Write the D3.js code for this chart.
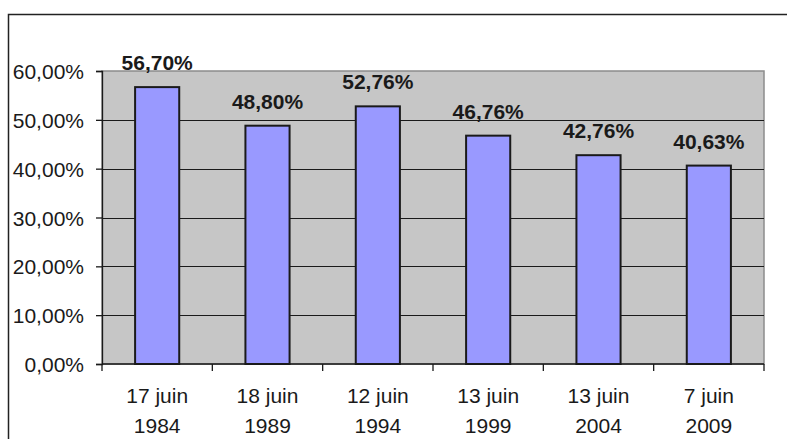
<!DOCTYPE html>
<html lang="fr">
<head>
<meta charset="UTF-8">
<title>Participation</title>
<script src="https://d3js.org/d3.v7.min.js"></script>
<style>
  body { margin: 0; background: #fff; }
  text { font-family: "Liberation Sans", Arial, sans-serif; fill: #1a1a1a; }
</style>
</head>
<body>
<script>
    // data
    dates = ["17 juin", "18 juin", "12 juin", "13 juin", "13 juin", "7 juin"]
    years = ["1984", "1989", "1994", "1999", "2004", "2009"]
    values = [56.70, 48.80, 52.76, 46.76, 42.76, 40.63]
    yTicks = [0, 10, 20, 30, 40, 50, 60]

    w = 787
    h = 439
    margin = {top: 71, right: 23, bottom: 75, left: 102}
    width = w - margin.left - margin.right
    height = h - margin.top - margin.bottom

    fmt = v => v.toFixed(2).replace(".", ",") + "%"

    root = d3.select("body").append("svg")
        .attr("width", w)
        .attr("height", h)

    // outer frame
    root.append("rect")
        .attr("x", 8.5).attr("y", 14.5)
        .attr("width", 800).attr("height", 450)
        .attr("fill", "none")
        .attr("stroke", "#222")
        .attr("stroke-width", 1.5)

    svg = root.append("g")
        .attr("transform", "translate(" + margin.left + "," + margin.top + ")")

    x = d3.scaleBand()
        .domain(d3.range(values.length))
        .range([0, width])
        .paddingInner(0.6)
        .paddingOuter(0.3)

    y = d3.scaleLinear()
        .domain([0, 60])
        .range([height, 0])

    // plot background
    svg.append("rect")
        .attr("width", width)
        .attr("height", height)
        .attr("fill", "#c6c6c6")
        .attr("stroke", "#8c8c8c")
        .attr("stroke-width", 1.5)

    // gridlines
    svg.selectAll("line.grid")
        .data(yTicks.filter(t => t > 0 && t < 60))
        .join("line")
        .attr("class", "grid")
        .attr("x1", 0).attr("x2", width)
        .attr("y1", d => Math.round(y(d)) + 0.5)
        .attr("y2", d => Math.round(y(d)) + 0.5)
        .attr("stroke", "#1a1a1a")
        .attr("stroke-width", 1.2)

    // y axis
    yAxis = svg.append("g")
        .call(d3.axisLeft(y).tickValues(yTicks).tickFormat(fmt).tickSize(6).tickPadding(12))
    yAxis.selectAll("text").style("font-size", "21px").attr("dy", "0.36em")
    yAxis.selectAll("line, path").attr("stroke", "#1a1a1a").attr("stroke-width", 1.3)

    // x axis, ticks on band edges
    xb = svg.append("g").attr("transform", "translate(0," + height + ")")
    xb.append("line").attr("x1", 0).attr("x2", width)
        .attr("stroke", "#1a1a1a").attr("stroke-width", 1.5)
    step = x.step()
    xb.selectAll("line.tk")
        .data(d3.range(values.length + 1))
        .join("line")
        .attr("class", "tk")
        .attr("x1", d => d * width / values.length)
        .attr("x2", d => d * width / values.length)
        .attr("y1", 0).attr("y2", 7)
        .attr("stroke", "#1a1a1a").attr("stroke-width", 1.3)

    cat = xb.selectAll("text.cat")
        .data(values.map((v, i) => i))
        .join("text")
        .attr("class", "cat")
        .attr("text-anchor", "middle")
        .attr("x", i => x(i) + x.bandwidth() / 2)
        .style("font-size", "21px")
    cat.append("tspan").attr("x", i => x(i) + x.bandwidth() / 2).attr("y", 39).text(i => dates[i])
    cat.append("tspan").attr("x", i => x(i) + x.bandwidth() / 2).attr("y", 69).text(i => years[i])

    // bars
    svg.selectAll("rect.bar")
        .data(values)
        .join("rect")
        .attr("class", "bar")
        .attr("x", (d, i) => x(i))
        .attr("width", x.bandwidth())
        .attr("y", d => y(d))
        .attr("height", d => height - y(d))
        .attr("fill", "#9999ff")
        .attr("stroke", "#1a1a1a")
        .attr("stroke-width", 2)

    // value labels
    svg.selectAll("text.lbl")
        .data(values)
        .join("text")
        .attr("class", "lbl")
        .attr("text-anchor", "middle")
        .attr("x", (d, i) => x(i) + x.bandwidth() / 2)
        .attr("y", d => y(d) - 17)
        .style("font-size", "21px")
        .style("font-weight", "bold")
        .text(fmt)
</script>
</body>
</html>
